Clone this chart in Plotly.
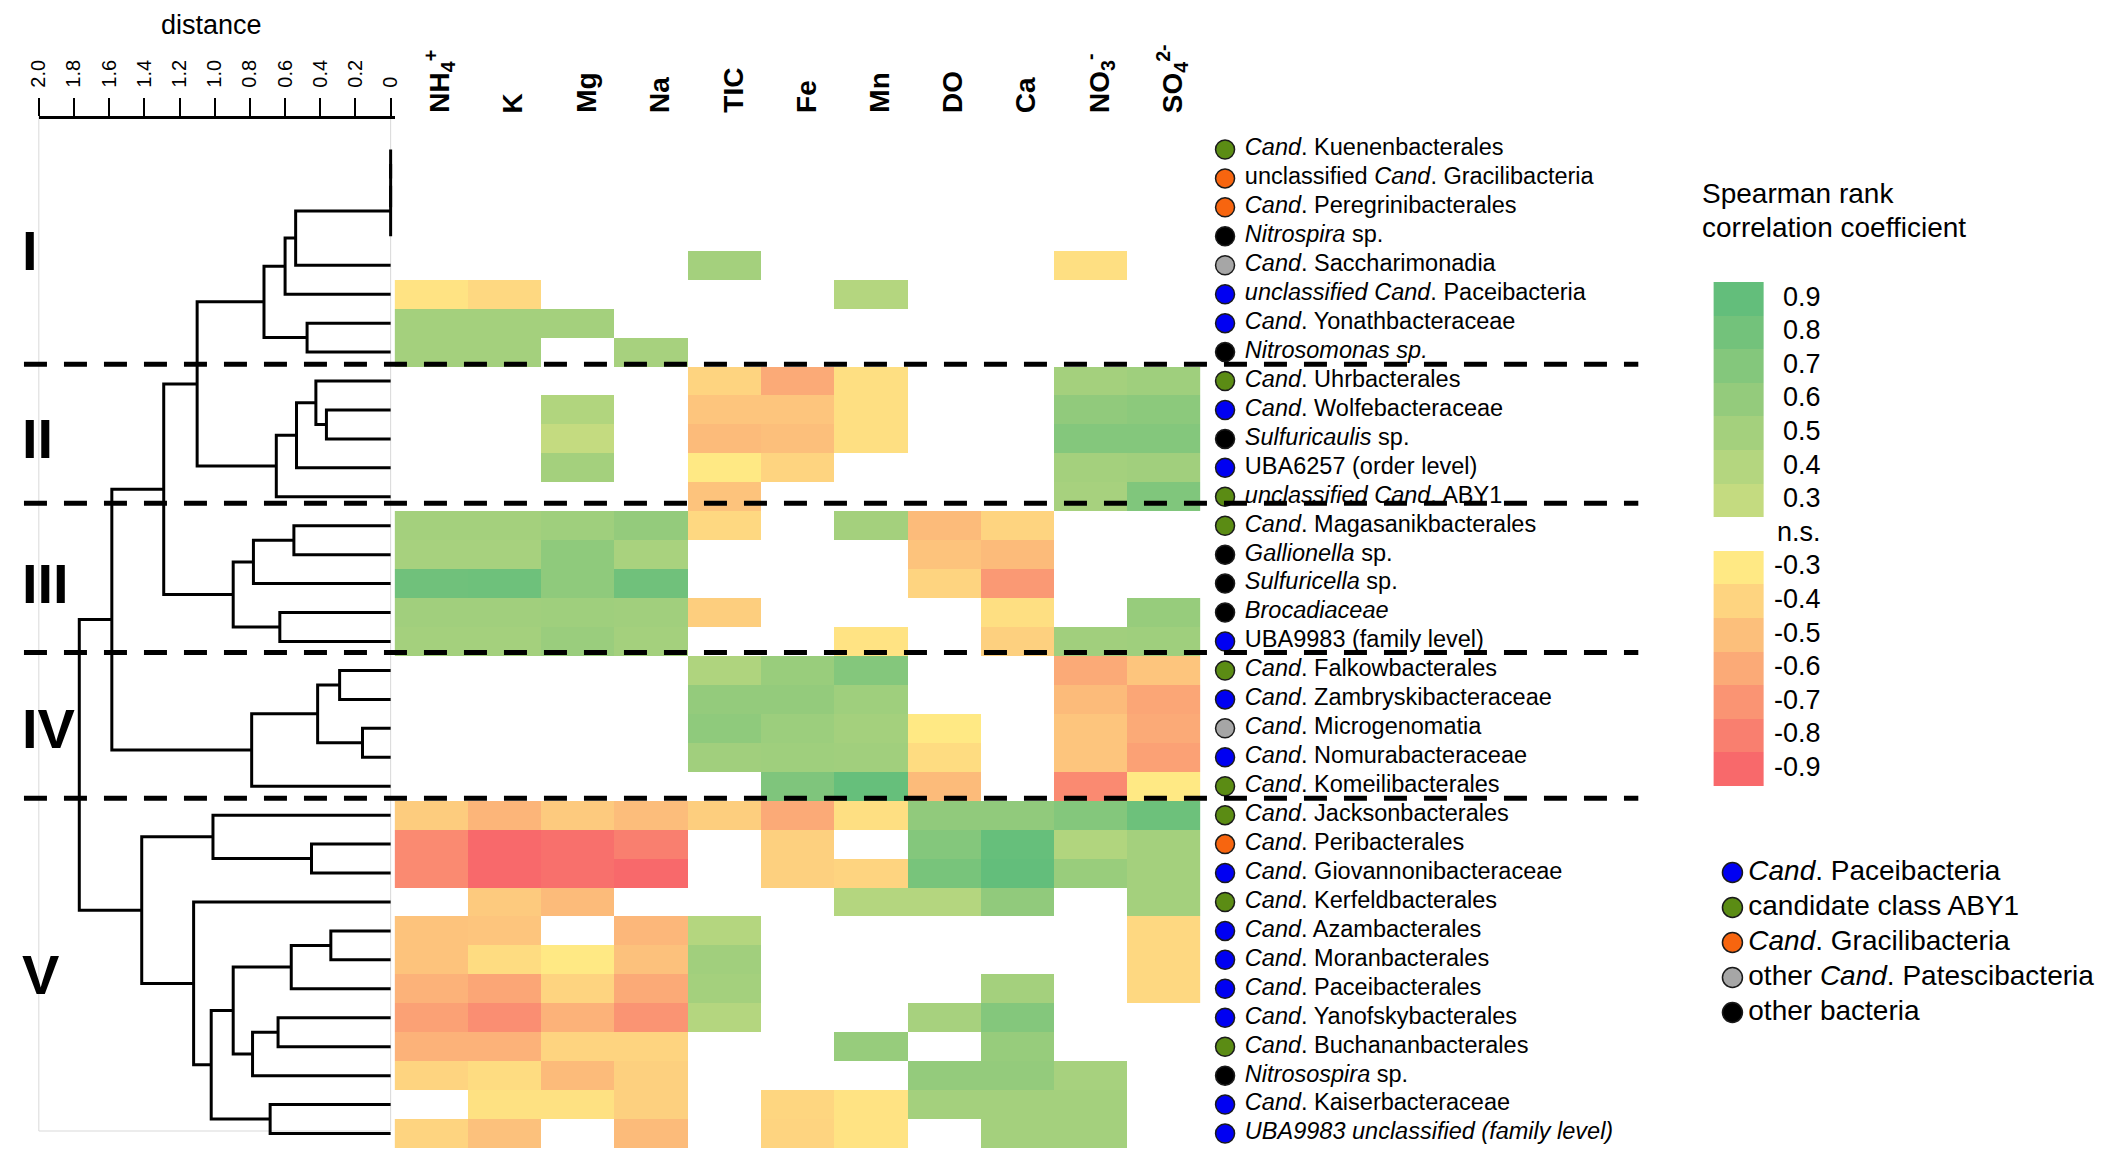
import plotly.graph_objects as go

W, H = 2111, 1159
FONT = "Liberation Sans, Arial, sans-serif"
N = None

# ---------------- data ----------------
columns = ["NH<sub>4</sub><sup>+</sup>", "K", "Mg", "Na", "TIC", "Fe", "Mn", "DO", "Ca",
           "NO<sub>3</sub><sup>-</sup>", "SO<sub>4</sub><sup>2-</sup>"]

taxa = [
    "<i>Cand</i>. Kuenenbacterales",
    "unclassified <i>Cand</i>. Gracilibacteria",
    "<i>Cand</i>. Peregrinibacterales",
    "<i>Nitrospira</i> sp.",
    "<i>Cand</i>. Saccharimonadia",
    "<i>unclassified Cand</i>. Paceibacteria",
    "<i>Cand</i>. Yonathbacteraceae",
    "<i>Nitrosomonas sp.</i>",
    "<i>Cand</i>. Uhrbacterales",
    "<i>Cand</i>. Wolfebacteraceae",
    "<i>Sulfuricaulis</i> sp.",
    "UBA6257 (order level)",
    "<i>unclassified Cand</i>. ABY1",
    "<i>Cand</i>. Magasanikbacterales",
    "<i>Gallionella</i> sp.",
    "<i>Sulfuricella</i> sp.",
    "<i>Brocadiaceae</i>",
    "UBA9983 (family level)",
    "<i>Cand</i>. Falkowbacterales",
    "<i>Cand</i>. Zambryskibacteraceae",
    "<i>Cand</i>. Microgenomatia",
    "<i>Cand</i>. Nomurabacteraceae",
    "<i>Cand</i>. Komeilibacterales",
    "<i>Cand</i>. Jacksonbacterales",
    "<i>Cand</i>. Peribacterales",
    "<i>Cand</i>. Giovannonibacteraceae",
    "<i>Cand</i>. Kerfeldbacterales",
    "<i>Cand</i>. Azambacterales",
    "<i>Cand</i>. Moranbacterales",
    "<i>Cand</i>. Paceibacterales",
    "<i>Cand</i>. Yanofskybacterales",
    "<i>Cand</i>. Buchananbacterales",
    "<i>Nitrosospira</i> sp.",
    "<i>Cand</i>. Kaiserbacteraceae",
    "<i>UBA9983 unclassified (family level)</i>",
]

taxon_group = ["aby1", "grac", "grac", "other", "pates", "pace", "pace", "other",
               "aby1", "pace", "other", "pace", "aby1",
               "aby1", "other", "other", "other", "pace",
               "aby1", "pace", "pates", "pace", "aby1",
               "aby1", "grac", "pace", "aby1", "pace", "pace", "pace", "pace",
               "aby1", "other", "pace", "pace"]

group_keys = ["pace", "aby1", "grac", "pates", "other"]
group_names = ["<i>Cand</i>. Paceibacteria", "candidate class ABY1", "<i>Cand</i>. Gracilibacteria",
               "other <i>Cand</i>. Patescibacteria", "other bacteria"]
group_colors = ["#0000f2", "#5b8c14", "#f7650f", "#a6a6a6", "#000000"]

# Spearman correlation (None = n.s.), columns as in `columns`
corr = [
    [N, N, N, N, N, N, N, N, N, N, N],
    [N, N, N, N, N, N, N, N, N, N, N],
    [N, N, N, N, N, N, N, N, N, N, N],
    [N, N, N, N, N, N, N, N, N, N, N],
    [N, N, N, N, 0.5, N, N, N, N, -0.35, N],
    [-0.33, -0.38, N, N, N, N, 0.4, N, N, N, N],
    [0.5, 0.5, 0.5, N, N, N, N, N, N, N, N],
    [0.5, 0.5, N, 0.48, N, N, N, N, N, N, N],
    [N, N, N, N, -0.4, -0.6, -0.35, N, N, 0.5, 0.53],
    [N, N, 0.42, N, -0.47, -0.47, -0.35, N, N, 0.62, 0.65],
    [N, N, 0.3, N, -0.52, -0.5, -0.35, N, N, 0.7, 0.7],
    [N, N, 0.5, N, -0.3, -0.4, N, N, N, 0.5, 0.52],
    [N, N, N, N, -0.48, N, N, N, N, 0.48, 0.72],
    [0.5, 0.5, 0.53, 0.6, -0.38, N, 0.5, -0.52, -0.4, N, N],
    [0.48, 0.48, 0.63, 0.47, N, N, N, -0.48, -0.52, N, N],
    [0.82, 0.83, 0.63, 0.82, N, N, N, -0.4, -0.68, N, N],
    [0.52, 0.52, 0.53, 0.52, -0.43, N, N, N, -0.35, N, 0.58],
    [0.5, 0.5, 0.56, 0.5, N, N, -0.33, N, -0.42, 0.52, 0.53],
    [N, N, N, N, 0.43, 0.57, 0.7, N, N, -0.6, -0.47],
    [N, N, N, N, 0.6, 0.6, 0.53, N, N, -0.52, -0.62],
    [N, N, N, N, 0.63, 0.55, 0.5, -0.3, N, -0.47, -0.6],
    [N, N, N, N, 0.52, 0.53, 0.52, -0.36, N, -0.47, -0.64],
    [N, N, N, N, N, 0.73, 0.88, -0.52, N, -0.75, -0.3],
    [-0.44, -0.55, -0.45, -0.51, -0.43, -0.6, -0.35, 0.62, 0.62, 0.7, 0.84],
    [-0.75, -0.9, -0.87, -0.8, N, -0.42, N, 0.7, 0.88, 0.42, 0.5],
    [-0.75, -0.9, -0.87, -0.9, N, -0.42, -0.4, 0.77, 0.9, 0.57, 0.5],
    [N, -0.45, -0.52, N, N, N, 0.4, 0.4, 0.62, N, 0.5],
    [-0.48, -0.47, N, -0.54, 0.4, N, N, N, N, N, -0.38],
    [-0.48, -0.36, -0.3, -0.49, 0.52, N, N, N, N, N, -0.38],
    [-0.56, -0.62, -0.4, -0.6, 0.5, N, N, N, 0.5, N, -0.38],
    [-0.64, -0.73, -0.56, -0.7, 0.4, N, N, 0.48, 0.7, N, N],
    [-0.56, -0.56, -0.4, -0.4, N, N, 0.58, N, 0.58, N, N],
    [-0.4, -0.36, -0.52, -0.42, N, N, N, 0.6, 0.6, 0.48, N],
    [N, -0.34, -0.34, -0.42, N, -0.39, -0.33, 0.5, 0.5, 0.5, N],
    [-0.4, -0.49, N, -0.52, N, -0.4, -0.33, N, 0.5, 0.5, N],
]

# hierarchical clustering merges: (left, right, distance); new node ids start at 35
merges = [
    (0, 1, 0.0), (35, 2, 0.0), (36, 3, 0.0), (37, 4, 0.54), (38, 5, 0.60),
    (6, 7, 0.475), (39, 40, 0.72),
    (9, 10, 0.365), (8, 42, 0.425), (43, 11, 0.535), (44, 12, 0.65),
    (41, 45, 1.10),
    (13, 14, 0.55), (47, 15, 0.78), (16, 17, 0.63), (48, 49, 0.895),
    (46, 50, 1.29),
    (18, 19, 0.29), (20, 21, 0.16), (52, 53, 0.415), (54, 22, 0.79),
    (51, 55, 1.585),
    (24, 25, 0.45), (23, 57, 1.01), (27, 28, 0.34), (59, 29, 0.565),
    (30, 31, 0.64), (61, 32, 0.785), (60, 62, 0.895), (33, 34, 0.685),
    (63, 64, 1.02), (26, 65, 1.12), (58, 66, 1.415),
    (56, 67, 1.77),
]

cluster_names = ["I", "II", "III", "IV", "V"]
cluster_starts = [0, 8, 13, 18, 23]

distance_ticks = [2.0, 1.8, 1.6, 1.4, 1.2, 1.0, 0.8, 0.6, 0.4, 0.2, 0.0]
distance_ticktext = ["2.0", "1.8", "1.6", "1.4", "1.2", "1.0", "0.8", "0.6", "0.4", "0.2", "0"]

scale_values = [0.9, 0.8, 0.7, 0.6, 0.5, 0.4, 0.3, N, -0.3, -0.4, -0.5, -0.6, -0.7, -0.8, -0.9]
scale_labels = ["0.9", "0.8", "0.7", "0.6", "0.5", "0.4", "0.3", "n.s.",
                "-0.3", "-0.4", "-0.5", "-0.6", "-0.7", "-0.8", "-0.9"]

colorscale = [[0.0, "#f8696b"], [1 / 6, "#fbaa77"], [1 / 3, "#ffe984"], [0.5, "#ffeb84"],
              [2 / 3, "#c4db80"], [5 / 6, "#94cb7c"], [1.0, "#63be7b"]]

# ---------------- layout constants (pixels) ----------------
HM_L, HM_R, HM_T, HM_B = 378, 1191, 127, 1140
DG_L, DG_0 = 19, 374          # dendrogram: x of distance 2.0 and 0
AX_Y = 108.7                  # dendrogram axis line
FR_B = 1123                   # dendrogram frame bottom
SEP_SHIFT = [0.08, 0.28, 0.12, 0.08]


def px_x(p):
    return p / W


def px_y(p):
    return 1 - p / H


n_rows = len(taxa)


def dendro_lines(merge_list, n_leaves):
    pos = {i: float(i) for i in range(n_leaves)}
    hgt = {i: 0.0 for i in range(n_leaves)}
    xs, ys = [], []
    for k, (a, b, h) in enumerate(merge_list):
        nid = n_leaves + k
        xs += [hgt[a], h, h, hgt[b], None]
        ys += [pos[a], pos[a], pos[b], pos[b], None]
        pos[nid] = (pos[a] + pos[b]) / 2
        hgt[nid] = h
    return xs, ys


fig = go.Figure()

# heatmap
fig.add_trace(go.Heatmap(
    z=corr, x=list(range(len(columns))), y=list(range(n_rows)),
    colorscale=colorscale, zmin=-0.9, zmax=0.9, showscale=False,
    xaxis="x", yaxis="y", hoverinfo="skip",
))

# dendrogram
dx, dy = dendro_lines(merges, n_rows)
fig.add_trace(go.Scatter(x=dx, y=dy, mode="lines", xaxis="x3", yaxis="y",
                         line=dict(color="black", width=3), hoverinfo="skip"))

# row label markers and text
color_of = dict(zip(group_keys, group_colors))
fig.add_trace(go.Scatter(
    x=[1216] * n_rows, y=list(range(n_rows)), mode="markers", xaxis="x2", yaxis="y",
    marker=dict(size=19, color=[color_of[g] for g in taxon_group],
                line=dict(color="#1a1a1a", width=1.5)),
    hoverinfo="skip", cliponaxis=False,
))
fig.add_trace(go.Scatter(
    x=[1236] * n_rows, y=list(range(n_rows)), mode="text", xaxis="x2", yaxis="y",
    text=taxa, textposition="middle right",
    textfont=dict(family=FONT, size=23.5, color="black"),
    hoverinfo="skip", cliponaxis=False,
))

# colour scale legend (discrete blocks)
fig.add_trace(go.Heatmap(
    z=[[v] for v in scale_values], x0=1734, dx=50, y0=0, dy=1,
    colorscale=colorscale, zmin=-0.9, zmax=0.9, showscale=False,
    xaxis="x5", yaxis="y5", hoverinfo="skip",
))
fig.add_trace(go.Scatter(
    x=[1817] * len(scale_labels), y=list(range(len(scale_labels))), mode="text",
    text=scale_labels, textposition="middle left", xaxis="x5", yaxis="y5",
    textfont=dict(family=FONT, size=27, color="black"), hoverinfo="skip", cliponaxis=False,
))

# group legend
fig.add_trace(go.Scatter(
    x=[1728] * len(group_keys), y=list(range(len(group_keys))), mode="markers",
    xaxis="x4", yaxis="y4",
    marker=dict(size=20, color=group_colors, line=dict(color="#1a1a1a", width=1.5)),
    hoverinfo="skip", cliponaxis=False,
))
fig.add_trace(go.Scatter(
    x=[1744] * len(group_keys), y=list(range(len(group_keys))), mode="text",
    text=group_names, textposition="middle right", xaxis="x4", yaxis="y4",
    textfont=dict(family=FONT, size=28, color="black"), hoverinfo="skip", cliponaxis=False,
))

hidden = dict(visible=False, showgrid=False, zeroline=False)
dg_scale = (DG_0 - DG_L) / 2.0
dg_end = -(HM_L - DG_0) / dg_scale

fig.update_layout(
    width=W, height=H, autosize=False,
    margin=dict(l=0, r=0, t=0, b=0),
    paper_bgcolor="white", plot_bgcolor="white",
    showlegend=False,
    font=dict(family=FONT, color="black"),
    xaxis=dict(domain=[px_x(HM_L), px_x(HM_R)], range=[-0.5, len(columns) - 0.5],
               anchor="y", **hidden),
    yaxis=dict(domain=[px_y(HM_B), px_y(HM_T)], range=[n_rows - 0.5, -0.5],
               anchor="x", **hidden),
    xaxis2=dict(domain=[px_x(1195), px_x(1700)], range=[1195, 1700], anchor="y", **hidden),
    xaxis3=dict(domain=[px_x(DG_L), px_x(HM_L)], range=[2.0, dg_end], anchor="free",
                position=px_y(AX_Y), side="top", showgrid=False, zeroline=False,
                showline=True, linecolor="black", linewidth=3,
                ticks="outside", ticklen=18, tickwidth=2, tickcolor="black",
                tickvals=distance_ticks, ticktext=distance_ticktext, tickangle=-90,
                tickfont=dict(family=FONT, size=20, color="black"),
                ticklabelstandoff=6),
    xaxis4=dict(domain=[px_x(1700), px_x(2111)], range=[1700, 2111], anchor="y4", **hidden),
    yaxis4=dict(domain=[px_y(1022), px_y(847)], range=[len(group_keys) - 0.5, -0.5],
                anchor="x4", **hidden),
    xaxis5=dict(domain=[px_x(1700), px_x(1840)], range=[1700, 1840], anchor="y5", **hidden),
    yaxis5=dict(domain=[px_y(778), px_y(274)], range=[len(scale_labels) - 0.5, -0.5],
                anchor="x5", **hidden),
)

shapes = []
# dendrogram frame
shapes.append(dict(type="rect", xref="paper", yref="paper", x0=px_x(DG_L), x1=px_x(DG_0),
                   y0=px_y(FR_B), y1=px_y(AX_Y), line=dict(color="#d9d9d9", width=1),
                   layer="below"))
# cluster separators
for s, off in zip(cluster_starts[1:], SEP_SHIFT):
    shapes.append(dict(type="line", xref="paper", yref="y", x0=px_x(4), x1=px_x(1633),
                       y0=s - 0.5 - off, y1=s - 0.5 - off,
                       line=dict(color="black", width=5, dash="23px,17px")))
fig.update_layout(shapes=shapes)

ann = []
# column headers
for i, c in enumerate(columns):
    ann.append(dict(x=i, y=px_y(107), xref="x", yref="paper", text="<b>" + c + "</b>",
                    textangle=-90, showarrow=False, xanchor="center", yanchor="bottom",
                    xshift=9, font=dict(family=FONT, size=28, color="black")))
# cluster numerals
ends = cluster_starts[1:] + [n_rows]
for name, s, e in zip(cluster_names, cluster_starts, ends):
    ann.append(dict(x=0, y=(s + e - 1) / 2, xref="paper", yref="y",
                    text="<b>" + name + "</b>", showarrow=False, xanchor="left",
                    yanchor="middle", font=dict(family=FONT, size=56, color="black")))
# axis title
ann.append(dict(x=px_x(193), y=1, xref="paper", yref="paper", text="distance",
                showarrow=False, xanchor="center", yanchor="top",
                font=dict(family=FONT, size=27, color="black")))
# colour legend title
ann.append(dict(x=px_x(1695), y=px_y(185), xref="paper", yref="paper", text="Spearman rank",
                showarrow=False, xanchor="left", yanchor="middle",
                font=dict(family=FONT, size=28, color="black")))
ann.append(dict(x=px_x(1695), y=px_y(219), xref="paper", yref="paper",
                text="correlation coefficient", showarrow=False, xanchor="left",
                yanchor="middle", font=dict(family=FONT, size=28, color="black")))
fig.update_layout(annotations=ann)

fig.write_html("out.html")
